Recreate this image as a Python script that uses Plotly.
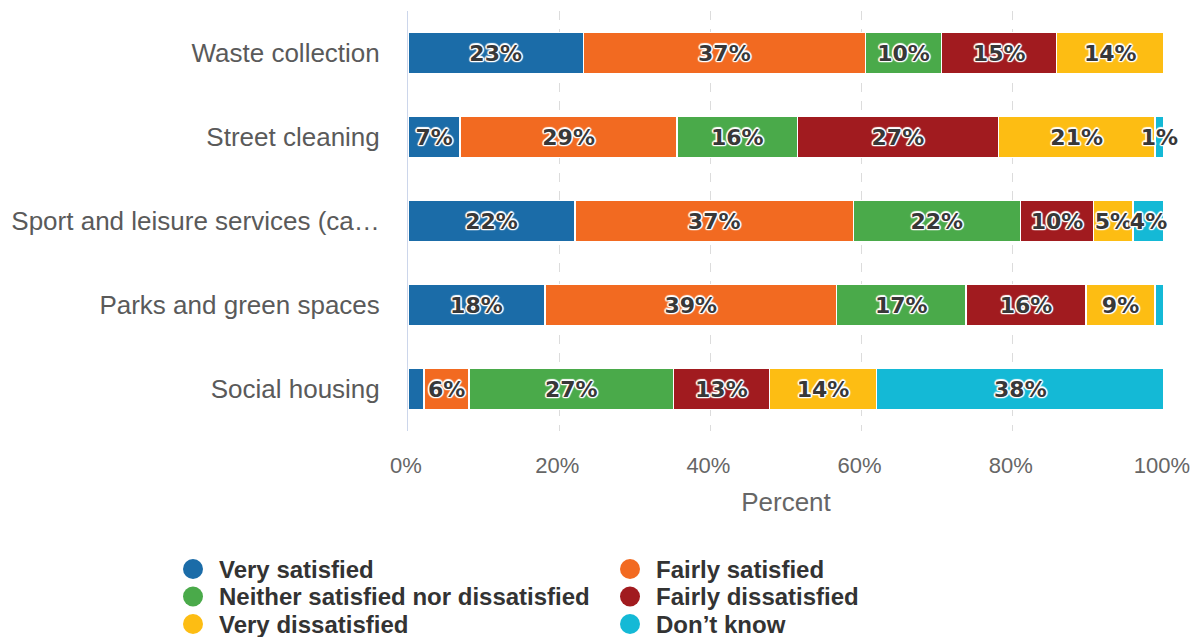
import plotly.graph_objects as go

categories = ["Waste collection", "Street cleaning", "Sport and leisure services (ca…",
              "Parks and green spaces", "Social housing"]

very_satisfied = [23.2, 6.9, 22.1, 18.1, 2.1]
fairly_satisfied = [37.3, 28.7, 36.8, 38.6, 6.0]
neither = [10.1, 15.9, 22.1, 17.1, 27.0]
fairly_dissatisfied = [15.2, 26.6, 9.7, 15.9, 12.7]
very_dissatisfied = [14.2, 20.7, 5.2, 9.1, 14.2]
dont_know = [0.0, 1.2, 4.1, 1.2, 38.0]

tick_vals = [0, 20, 40, 60, 80, 100]
tick_text = ["0%", "20%", "40%", "60%", "80%", "100%"]

series = [
    ("Very satisfied", very_satisfied, "#1b6ca8"),
    ("Fairly satisfied", fairly_satisfied, "#f26a21"),
    ("Neither satisfied nor dissatisfied", neither, "#4aaa4a"),
    ("Fairly dissatisfied", fairly_dissatisfied, "#a11b1f"),
    ("Very dissatisfied", very_dissatisfied, "#fdbd13"),
    ("Don’t know", dont_know, "#14b9d6"),
]

# labels the original chart does not print (too narrow)
hidden = {("Very satisfied", "Social housing"), ("Don’t know", "Parks and green spaces"),
          ("Don’t know", "Waste collection")}

outline = ", ".join(f"{dx}px {dy}px 1px white" for dx, dy in
                    [(-1.5, 0), (1.5, 0), (0, -1.5), (0, 1.5), (-1, -1), (1, 1), (-1, 1), (1, -1)])

fig = go.Figure()
for name, vals, color in series:
    text = ["" if (name, c) in hidden else f"{v:.0f}%" for c, v in zip(categories, vals)]
    fig.add_trace(go.Bar(
        y=categories, x=vals, orientation="h", name=name,
        marker=dict(color=color, line=dict(color="white", width=1.5)),
        text=text, textposition="inside", insidetextanchor="middle",
        constraintext="none", textangle=0, cliponaxis=False,
        textfont=dict(family="DejaVu Sans", size=22, color="#383838",
                      weight="bold", shadow=outline),
        showlegend=False, hoverinfo="skip",
    ))

# page body adds 8px margin; figure is sized so the plot area sits where the original does
W, H = 1191, 629
ml, mr, mt, mb = 400, 35, 3, 206
pw, ph = W - ml - mr, H - mt - mb

# hand-drawn legend: two columns of round markers with bold labels
shapes, annotations = [], []
for i, (name, vals, color) in enumerate(series):
    col, row = i % 2, i // 2
    cx = (185 + col * 437 - ml) / pw
    cy = (ph - (561 + row * 27.5 - mt)) / ph
    shapes.append(dict(type="circle", xref="paper", yref="paper",
                       xsizemode="pixel", ysizemode="pixel", xanchor=cx, yanchor=cy,
                       x0=-10, x1=10, y0=-10, y1=10,
                       fillcolor=color, line=dict(width=0)))
    annotations.append(dict(xref="paper", yref="paper", x=cx + 24 / pw, y=cy,
                            xanchor="left", yanchor="middle", showarrow=False,
                            text=name, font=dict(size=24, color="#333333", weight="bold")))

fig.update_layout(
    barmode="stack",
    bargap=0.51,
    width=W, height=H,
    margin=dict(l=ml, r=mr, t=mt, b=mb),
    plot_bgcolor="white", paper_bgcolor="white",
    font=dict(family="Liberation Sans, Arial", color="#555555"),
    showlegend=False,
    shapes=shapes,
    annotations=annotations,
)

fig.update_xaxes(
    range=[0, 100.001], tickvals=tick_vals, ticktext=tick_text,
    showgrid=True, gridcolor="#dcdcdc", griddash="dash", gridwidth=1,
    zeroline=False, showline=False,
    tickfont=dict(size=22, color="#666666"),
    ticklabelstandoff=19, ticklabelshift=-2,
    title=dict(text="Percent", font=dict(size=26, color="#666666"), standoff=15),
    fixedrange=True,
)
fig.update_yaxes(
    autorange="reversed", showline=True, linecolor="#ccd6eb", linewidth=1,
    showgrid=False, tickfont=dict(size=26, color="#5a5a5a"),
    ticklabelstandoff=22, fixedrange=True,
)

fig.write_html("out.html", config={"displayModeBar": False})
